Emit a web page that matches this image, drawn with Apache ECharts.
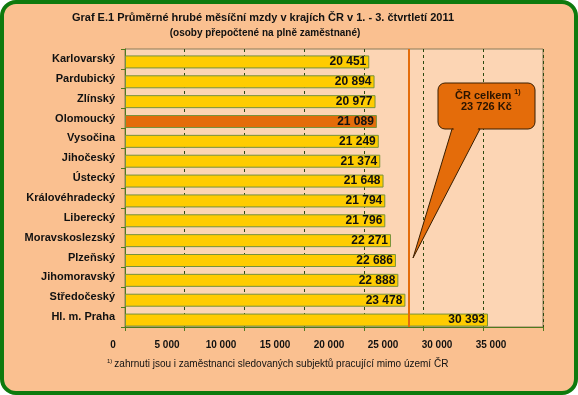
<!DOCTYPE html>
<html><head><meta charset="utf-8">
<script src="https://cdn.jsdelivr.net/npm/echarts@6/dist/echarts.min.js"></script>
<style>html,body{margin:0;padding:0;background:#fff}#c{width:578px;height:395px}</style>
</head><body><div id="c"></div>
<script>
const categories = ["Karlovarský","Pardubický","Zlínský","Olomoucký","Vysočina","Jihočeský","Ústecký","Královéhradecký","Liberecký","Moravskoslezský","Plzeňský","Jihomoravský","Středočeský","Hl. m. Praha"];
const wages = [20451,20894,20977,21089,21249,21374,21648,21794,21796,22271,22686,22888,23478,30393];
const highlight = "Olomoucký";
const totalCR = 23726;
const axisMin = 0, axisMax = 35000, axisStep = 5000;

const FONT = '"Liberation Sans", Arial, sans-serif';
const fmt = v => String(v).replace(/\B(?=(\d{3})+(?!\d))/g, ' ');

const chart = echarts.init(document.getElementById('c'), null, {renderer:'canvas'});
const cats = categories.slice().reverse();
const vals = wages.slice().reverse();
const TXT = '#111';

const hiddenCat = (gi) => ({gridIndex:gi, type:'category', data:cats, show:false});
const hiddenVal = (gi) => ({gridIndex:gi, type:'value', min:axisMin, max:axisMax, interval:axisStep, show:false});

chart.setOption({
  animation:false,
  backgroundColor:'#fff',
  graphic:[
    {type:'rect', z:-10, shape:{x:2,y:2,width:574,height:391,r:14}, style:{fill:'#FAC090', stroke:'#0E7A0E', lineWidth:4}},
    {type:'text', x:263, y:12, style:{text:'Graf E.1 Průměrné hrubé měsíční mzdy v krajích ČR v 1. - 3. čtvrtletí 2011', font:'bold 11px '+FONT, fill:TXT, align:'center', textAlign:'center'}},
    {type:'text', x:265, y:28, style:{text:'(osoby přepočtené na plně zaměstnané)', font:'bold 10px '+FONT, fill:TXT, align:'center', textAlign:'center'}},
    {type:'text', left:107, top:358, style:{rich:{s:{fontSize:6, fontFamily:FONT, fill:TXT, padding:[0,2,6,0]}, n:{fontSize:10, fontFamily:FONT, fill:TXT}}, text:'{s|1)}{n|zahrnuti jsou i zaměstnanci sledovaných subjektů pracující mimo území ČR}'}},
    {type:'rect', z:50, shape:{x:438,y:83,width:97,height:46,r:7}, style:{fill:'#E46C0A', stroke:'#3a1e00', lineWidth:1}},
    {type:'polygon', z:51, shape:{points:[[452,129],[480,129],[413,258]]}, style:{fill:'#E46C0A', stroke:'#3a1e00', lineWidth:1}},
    {type:'polygon', z:52, shape:{points:[[453,127],[479,127],[476,133],[455,133]]}, style:{fill:'#E46C0A'}},
    {type:'text', z:53, left:455, top:89, style:{rich:{a:{fontSize:11, fontWeight:'bold', fontFamily:FONT, fill:'#2a1400'}, s:{fontSize:7, fontFamily:FONT, fontWeight:'bold', fill:'#2a1400', padding:[0,0,6,0]}}, text:'{a|ČR celkem }{s|1)}'}},
    {type:'text', z:53, left:461, top:101, style:{text:'23 726 Kč', font:'bold 11px '+FONT, fill:'#2a1400'}}
  ],
  grid:[
    {left:125, right:35, top:49, bottom:68, show:true, backgroundColor:'#FCD5B4', borderColor:'#8B7D5A', borderWidth:1},
    {left:125, right:35, top:52, bottom:65},
    {left:113, right:87, top:330, height:10}
  ],
  xAxis:[
    {gridIndex:0, type:'value', min:axisMin, max:axisMax, interval:axisStep,
     axisLine:{show:true, lineStyle:{color:'#4E7A1E', width:1}}, axisTick:{show:true, length:4, lineStyle:{color:'#4E7A1E'}},
     axisLabel:{show:false},
     splitLine:{show:true, lineStyle:{color:'#2D4A10', type:[3,3], width:1}}},
    hiddenVal(1),
    {gridIndex:2, type:'value', min:axisMin, max:axisMax, interval:axisStep,
     axisLine:{show:false}, axisTick:{show:false}, splitLine:{show:false},
     axisLabel:{show:true, margin:0, formatter:fmt, fontSize:10, fontWeight:'bold', fontFamily:FONT, color:TXT}}
  ],
  yAxis:[
    {gridIndex:0, type:'category', data:cats,
     axisLine:{show:true, lineStyle:{color:'#4E7A1E', width:1}}, axisTick:{show:true, length:4, lineStyle:{color:'#4E7A1E'}},
     axisLabel:{margin:10, fontSize:11, fontWeight:'bold', fontFamily:FONT, color:TXT}},
    hiddenCat(1),
    {gridIndex:2, type:'value', show:false}
  ],
  series:[{
    type:'bar', xAxisIndex:1, yAxisIndex:1, barWidth:13, z:3,
    data: vals.map((v,i)=>({value:v, itemStyle:{color: cats[i]===highlight ? '#E46C0A' : '#FFCC00'}})),
    itemStyle:{borderColor:'#77933C', borderWidth:1},
    label:{show:true, position:'insideRight', distance:3, formatter:p=>fmt(p.value), fontSize:12, fontWeight:'bold', fontFamily:FONT, color:TXT}
  },{
    type:'line', xAxisIndex:0, yAxisIndex:0, data:[], z:5,
    markLine:{silent:true, symbol:'none', label:{show:false}, lineStyle:{color:'#E46C0A', width:2, type:'solid'}, data:[{xAxis:totalCR}]}
  }]
});
</script></body></html>
